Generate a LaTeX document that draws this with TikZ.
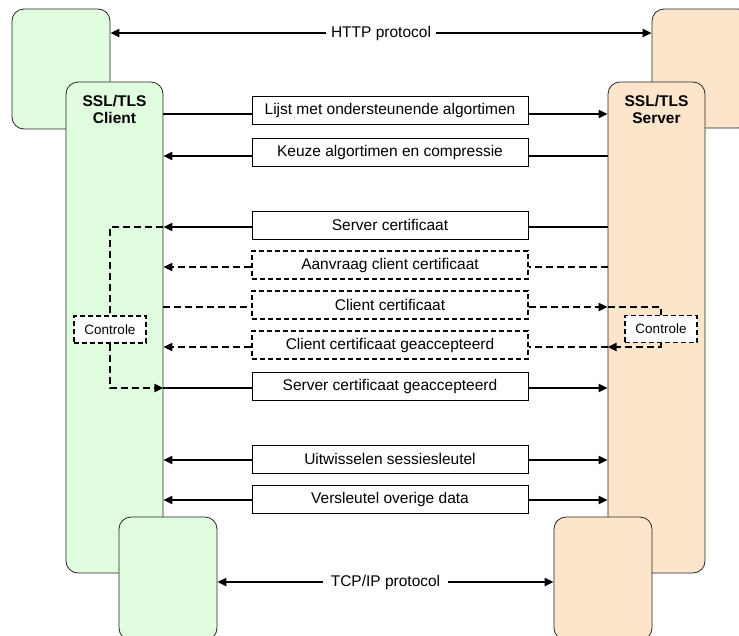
\documentclass[tikz,border=0pt]{standalone}
\usepackage{fontspec}
\setmainfont{Liberation Sans}
\usetikzlibrary{arrows.meta}
\definecolor{cgreen}{RGB}{224,253,224}
\definecolor{corange}{RGB}{253,229,204}
\begin{document}
\begin{tikzpicture}[x=1pt,y=-1pt,
  >={Triangle[length=9pt,width=8pt]},
  party/.style={draw=black!85, line width=0.8pt, rounded corners=12pt, inner sep=0pt},
  title/.style={font=\bfseries\fontsize{15.5}{16.5}\selectfont, align=center, inner sep=0pt},
  msg/.style={draw, line width=0.8pt, fill=white, minimum width=276pt, minimum height=28pt, inner sep=0pt, font=\fontsize{15.5}{17}\selectfont},
  dmsg/.style={msg, line width=1.2pt, dash pattern=on 5pt off 3pt},
  ctl/.style={draw, line width=1.2pt, dash pattern=on 5pt off 3pt, fill=white, minimum width=72pt, minimum height=27pt, inner sep=0pt, font=\fontsize{13.5}{15}\selectfont},
  flow/.style={line width=2pt},
  dflow/.style={line width=2pt, dash pattern=on 7pt off 4pt},
  proto/.style={fill=white, inner ysep=2pt, font=\fontsize{15.5}{17}\selectfont}
]
\clip (0,0) rectangle (739,635);
% left side
\node[party, fill=cgreen, minimum width=98pt, minimum height=120pt] (tl) at (61,69) {};
\node[party, fill=cgreen, minimum width=97pt, minimum height=491pt] (client) at (114.5,327.5) {};
\node[title] (clt) at (114.5,109.5) {SSL/TLS\\Client};
\node[party, fill=cgreen, minimum width=98pt, minimum height=123pt] (bl) at (168,578.5) {};
% right side
\node[party, fill=corange, minimum width=98pt, minimum height=119pt] (tr) at (701,68.5) {};
\node[party, fill=corange, minimum width=97pt, minimum height=491pt] (server) at (656.5,327.5) {};
\node[title] (svt) at (656.5,109.5) {SSL/TLS\\Server};
\node[party, fill=corange, minimum width=98pt, minimum height=123pt] (br) at (603,578.5) {};

% row levels
\coordinate (yh) at (0,33);
\coordinate (y1) at (0,114);
\coordinate (y2) at (0,156);
\coordinate (y3) at (0,227);
\coordinate (y4) at (0,267);
\coordinate (y5) at (0,307);
\coordinate (y6) at (0,347);
\coordinate (y7) at (0,388);
\coordinate (y8) at (0,460);
\coordinate (y9) at (0,500);
\coordinate (yt) at (0,582);

% protocols
\draw[flow, <->] (tl.east |- yh) -- (tr.west |- yh) node[proto, midway, inner xsep=5pt] (http) {HTTP protocol};
\draw[flow, <->] (bl.east |- yt) -- (br.west |- yt) node[proto, midway, inner xsep=8pt] (tcp) {TCP/IP protocol};

% messages
\node[msg]  (m1) at (390,110.5) {Lijst met ondersteunende algortimen};
\node[msg]  (m2) at (390,152.5) {Keuze algortimen en compressie};
\node[msg]  (m3) at (390,225)   {Server certificaat};
\node[dmsg] (m4) at (390,265)   {Aanvraag client certificaat};
\node[dmsg] (m5) at (390,305)   {Client certificaat};
\node[dmsg] (m6) at (390,345)   {Client certificaat geaccepteerd};
\node[msg]  (m7) at (390,386)   {Server certificaat geaccepteerd};
\node[msg]  (m8) at (390,459)   {Uitwisselen sessiesleutel};
\node[msg]  (m9) at (390,499)   {Versleutel overige data};

% connectors
\draw[flow] (client.east |- y1) -- (m1.west |- y1);
\draw[flow, ->] (m1.east |- y1) -- (server.west |- y1);
\draw[flow, ->] (m2.west |- y2) -- (client.east |- y2);
\draw[flow] (server.west |- y2) -- (m2.east |- y2);
\draw[flow, ->] (m3.west |- y3) -- (client.east |- y3);
\draw[flow] (server.west |- y3) -- (m3.east |- y3);
\draw[dflow, ->] (m4.west |- y4) -- (client.east |- y4);
\draw[dflow] (server.west |- y4) -- (m4.east |- y4);
\draw[dflow] (client.east |- y5) -- (m5.west |- y5);
\draw[dflow, ->] (m5.east |- y5) -- (server.west |- y5);
\draw[dflow, ->] (m6.west |- y6) -- (client.east |- y6);
\draw[dflow] (server.west |- y6) -- (m6.east |- y6);
\draw[flow] (client.east |- y7) -- (m7.west |- y7);
\draw[flow, ->] (m7.east |- y7) -- (server.west |- y7);
\draw[flow, ->] (m8.west |- y8) -- (client.east |- y8);
\draw[flow, ->] (m8.east |- y8) -- (server.west |- y8);
\draw[flow, ->] (m9.west |- y9) -- (client.east |- y9);
\draw[flow, ->] (m9.east |- y9) -- (server.west |- y9);

% controle boxes
\node[ctl] (ctlL) at (110,329.5) {Controle};
\node[ctl] (ctlR) at (661,329) {Controle};
\draw[dflow] (client.east |- y3) -| (ctlL.north);
\draw[dflow, ->] (ctlL.south) |- (client.east |- y7);
\draw[dflow] (server.west |- y5) -| (ctlR.north);
\draw[dflow, ->] (ctlR.south) |- (server.west |- y6);
\end{tikzpicture}
\end{document}
